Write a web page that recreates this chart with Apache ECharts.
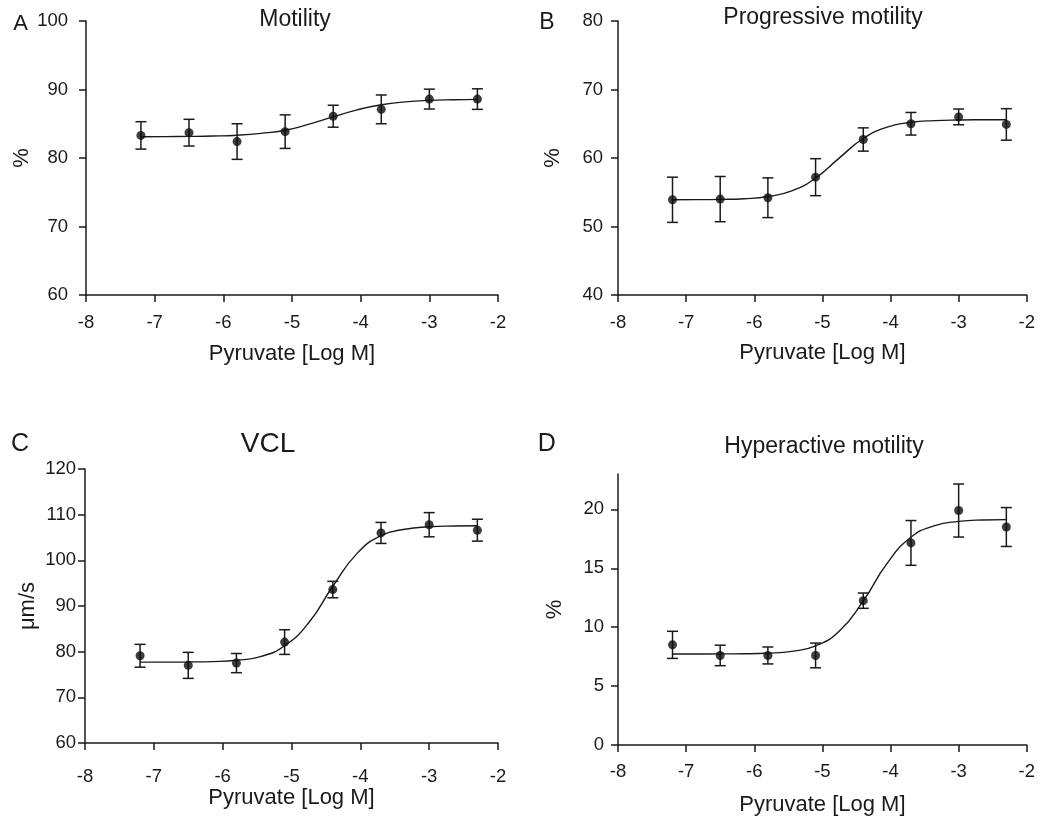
<!DOCTYPE html>
<html>
<head>
<meta charset="utf-8">
<script src="https://cdn.jsdelivr.net/npm/echarts@6.0.0/dist/echarts.min.js"></script>
<style>
html,body{margin:0;padding:0;background:#fff;}
#chart{width:1038px;height:817px;}
</style>
</head>
<body>
<div id="chart"></div>
<script>
// ---- data ----
const doseLogM = [-7.2, -6.5, -5.8, -5.1, -4.4, -3.7, -3.0, -2.3];

const motilityMean = [83.3, 83.7, 82.4, 83.85, 86.1, 87.1, 88.6, 88.6];
const motilitySem  = [2.0, 1.95, 2.6, 2.45, 1.6, 2.1, 1.45, 1.5];

const progMean = [53.9, 54.0, 54.2, 57.2, 62.7, 65.0, 66.0, 64.9];
const progSem  = [3.3, 3.3, 2.9, 2.7, 1.7, 1.65, 1.15, 2.3];

const vclMean = [79.1, 77.0, 77.5, 82.1, 93.6, 106.0, 107.8, 106.6];
const vclSem  = [2.5, 2.85, 2.1, 2.7, 1.8, 2.3, 2.65, 2.4];

const hyperMean = [8.5, 7.6, 7.6, 7.6, 12.25, 17.15, 19.9, 18.5];
const hyperSem  = [1.15, 0.87, 0.72, 1.05, 0.65, 1.9, 2.25, 1.65];

// fitted curves, values
const curveX = [-7.2, -6.85, -6.5, -6.15, -5.8, -5.45, -5.1, -4.75, -4.4, -4.05, -3.7, -3.35, -3.0, -2.65, -2.3];
const motilityCurve = [83.11, 83.12, 83.15, 83.21, 83.33, 83.60, 84.05, 84.94, 86.01, 87.03, 87.77, 88.19, 88.41, 88.51, 88.56];
const progCurve     = [53.91, 53.92, 53.96, 54.06, 54.37, 55.20, 57.06, 60.02, 62.85, 64.50, 65.21, 65.46, 65.55, 65.58, 65.59];
const vclCurve      = [77.70, 77.71, 77.74, 77.83, 78.11, 78.92, 81.30, 86.33, 94.32, 101.47, 105.40, 106.81, 107.34, 107.52, 107.57];
const hyperCurve    = [7.72, 7.72, 7.73, 7.74, 7.79, 7.95, 8.42, 9.67, 12.23, 15.42, 17.63, 18.62, 18.98, 19.10, 19.13];

const xTickLabels = ['-8', '-7', '-6', '-5', '-4', '-3', '-2'];
const hyperYTicks = [0, 5, 10, 15, 20];

const panelTitles = ['Motility', 'Progressive motility', 'VCL', 'Hyperactive motility'];
const panelLetters = ['A', 'B', 'C', 'D'];
const yNames = ['%', '%', 'μm/s', '%'];
const xName = 'Pyruvate [Log M]';

// ---- build ----
const FONT = '"Liberation Sans", Arial, Helvetica, sans-serif';
const INK = '#1a1a1a';

const grids = [
  {left: 86, top: 21, width: 412, height: 274},
  {left: 618, top: 21, width: 411, height: 274},
  {left: 85, top: 469, width: 413, height: 274},
  {left: 618, top: 474, width: 409, height: 273}
];
const yRanges = [[60, 100, 10], [40, 80, 10], [60, 120, 10], [0, 23, 5]];
const xLabelMargin = [18, 18, 24, 17];
const yLabelMargin = [18, 15, 9, 14];
const xNameGap = [48, 47, 43, 49];
const yNameGap = [52, 54, 46, 52];

const means = [motilityMean, progMean, vclMean, hyperMean];
const sems = [motilitySem, progSem, vclSem, hyperSem];
const curves = [motilityCurve, progCurve, vclCurve, hyperCurve];

const axisLine = {show: true, onZero: false, lineStyle: {color: INK, width: 1.5}};
const axisTick = {show: true, inside: false, length: 7, lineStyle: {color: INK, width: 1.5}};

const xAxes = grids.map((g, i) => ({
  type: 'value', gridIndex: i, min: -8, max: -2, interval: 1,
  axisLine, axisTick, splitLine: {show: false},
  axisLabel: {
    color: INK, fontSize: 18.5, fontFamily: FONT, margin: xLabelMargin[i],
    formatter: v => xTickLabels[Math.round(v + 8)]
  },
  name: xName, nameLocation: 'middle', nameGap: xNameGap[i],
  nameTextStyle: {color: INK, fontSize: 22, fontFamily: FONT}
}));

const yAxes = grids.map((g, i) => {
  const ax = {
    type: 'value', gridIndex: i, min: yRanges[i][0], max: yRanges[i][1], interval: yRanges[i][2],
    axisLine, axisTick: Object.assign({}, axisTick), splitLine: {show: false},
    axisLabel: {color: INK, fontSize: 18.5, fontFamily: FONT, margin: yLabelMargin[i]},
    name: yNames[i], nameLocation: 'middle', nameGap: yNameGap[i], nameRotate: 90,
    nameTextStyle: {color: INK, fontSize: 22, fontFamily: FONT}
  };
  if (i === 3) {
    ax.axisTick.customValues = hyperYTicks;
    ax.axisLabel.customValues = hyperYTicks;
  }
  return ax;
});

const series = [];
for (let i = 0; i < 4; i++) {
  series.push({
    type: 'custom', xAxisIndex: i, yAxisIndex: i, z: 2,
    encode: {x: 0, y: [1, 2]},
    data: doseLogM.map((x, k) => [x, means[i][k] - sems[i][k], means[i][k] + sems[i][k]]),
    renderItem: function (params, api) {
      const x = api.value(0);
      const lo = api.coord([x, api.value(1)]);
      const hi = api.coord([x, api.value(2)]);
      const w = 5.5;
      const st = {stroke: INK, lineWidth: 1.5};
      return {
        type: 'group',
        children: [
          {type: 'line', shape: {x1: lo[0], y1: lo[1], x2: hi[0], y2: hi[1]}, style: st},
          {type: 'line', shape: {x1: hi[0] - w, y1: hi[1], x2: hi[0] + w, y2: hi[1]}, style: st},
          {type: 'line', shape: {x1: lo[0] - w, y1: lo[1], x2: lo[0] + w, y2: lo[1]}, style: st}
        ]
      };
    }
  });
  series.push({
    type: 'line', xAxisIndex: i, yAxisIndex: i, z: 3,
    data: curveX.map((x, k) => [x, curves[i][k]]),
    smooth: 0.5, showSymbol: false, symbol: 'none',
    lineStyle: {color: INK, width: 1.4}
  });
  series.push({
    type: 'scatter', xAxisIndex: i, yAxisIndex: i, z: 4,
    data: doseLogM.map((x, k) => [x, means[i][k]]),
    symbol: 'circle', symbolSize: 9,
    itemStyle: {color: '#0d0d0d'}
  });
}

const titlePos = [[295, 20, 23], [823, 18, 23], [268, 444, 28], [824, 447, 23]];
const letterPos = [[20.5, 24, 22], [547, 23, 23], [20, 444, 25], [546.7, 444, 25]];
const graphic = [];
for (let i = 0; i < 4; i++) {
  graphic.push({
    type: 'text', x: titlePos[i][0], y: titlePos[i][1],
    style: {text: panelTitles[i], fill: INK, font: titlePos[i][2] + 'px ' + FONT, textAlign: 'center', textVerticalAlign: 'middle'}
  });
  graphic.push({
    type: 'text', x: letterPos[i][0], y: letterPos[i][1],
    style: {text: panelLetters[i], fill: INK, font: letterPos[i][2] + 'px ' + FONT, textAlign: 'center', textVerticalAlign: 'middle'}
  });
}

const chart = echarts.init(document.getElementById('chart'), null, {renderer: 'canvas'});
chart.setOption({
  animation: false,
  backgroundColor: '#fff',
  grid: grids,
  xAxis: xAxes,
  yAxis: yAxes,
  series: series,
  graphic: graphic
});
</script>
</body>
</html>
